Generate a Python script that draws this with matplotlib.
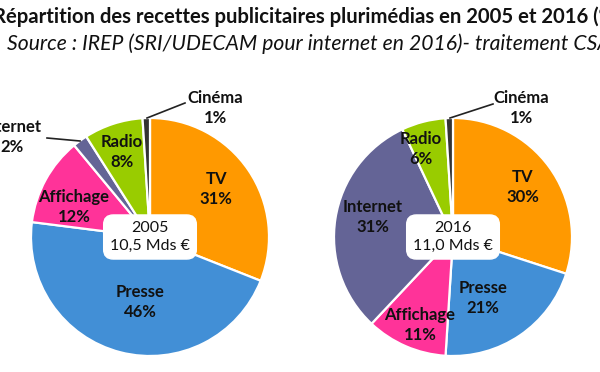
import matplotlib

matplotlib.use("Agg")
import matplotlib.pyplot as plt  # noqa: E402

# data
CATEGORIES = ["TV", "Presse", "Affichage", "Internet", "Radio", "Cinéma"]
SHARES_2005 = [31, 46, 12, 2, 8, 1]
SHARES_2016 = [30, 21, 11, 31, 6, 1]
TOTALS = ["10,5 Mds €", "11,0 Mds €"]
YEARS = ["2005", "2016"]
COLORS = ["#FF9900", "#428FD6", "#FF3399", "#646496", "#99CC00", "#333333"]

TITLE = "Répartition des recettes publicitaires plurimédias en 2005 et 2016 (%)"
SUBTITLE = "Source : IREP (SRI/UDECAM pour internet en 2016)- traitement CSA"

H = 372
FONT = ["Lato", "DejaVu Sans"]

# label placement in pixel coordinates (top-left origin)
LABELS_2005 = [(216, 189), (140, 302), (74, 207), (12, 137), (122, 152), (215, 108)]
LABELS_2016 = [(523, 187), (483, 298), (420, 325), (373, 217), (421, 149), (521, 108)]
LEADERS_2005 = {3: ((47, 138), (80, 141)), 5: ((147, 118), (185, 103))}
LEADERS_2016 = {5: ((450, 118), (493, 104))}

fig = plt.figure(figsize=(6, 3.72), dpi=100)
ax = fig.add_axes([0, 0, 1, 1])

pies = [
    (SHARES_2005, (150, H - 237), LABELS_2005, LEADERS_2005),
    (SHARES_2016, (453, H - 237), LABELS_2016, LEADERS_2016),
]
for i, (shares, center, labels, leaders) in enumerate(pies):
    ax.pie(
        shares,
        colors=COLORS,
        startangle=90,
        counterclock=False,
        center=center,
        radius=119,
        frame=True,
        wedgeprops=dict(edgecolor="white", linewidth=1.6),
    )
    for (x, y), name, val in zip(labels, CATEGORIES, shares):
        ax.text(x, H - y, f"{name}\n{val}%", ha="center", va="center",
                fontsize=12, fontweight="bold", family=FONT,
                color="#111111", linespacing=1.3)
    for (x0, y0), (x1, y1) in leaders.values():
        ax.plot([x0, x1], [H - y0, H - y1], color="#222222", lw=1.2)
    ax.text(center[0], center[1], f"{YEARS[i]}\n{TOTALS[i]}", ha="center",
            va="center", fontsize=11.5, family=FONT, color="#111111",
            linespacing=1.3,
            bbox=dict(boxstyle="round,pad=0.4,rounding_size=0.6",
                      fc="white", ec="white"))

ax.text(307, H - 17, TITLE, ha="center", va="center", fontsize=14.6,
        fontweight="bold", family=FONT, color="#111111")
ax.text(309, H - 44, SUBTITLE, ha="center", va="center", fontsize=15.2,
        fontstyle="italic", family=FONT, color="#111111")

ax.set_xlim(0, 600)
ax.set_ylim(0, H)
ax.set_aspect("equal")
ax.axis("off")

fig.savefig("out.png", dpi=100)
